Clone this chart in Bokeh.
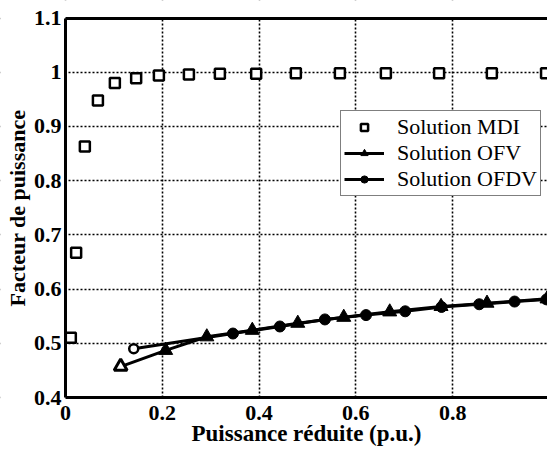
from bokeh.plotting import figure
from bokeh.models import (Range1d, FixedTicker, CustomJSTickFormatter, LinearAxis,
                          Legend, LegendItem, BoxAnnotation)
from bokeh.embed import file_html
from bokeh.resources import INLINE

# ---- data ----
x_ticks = [0, 0.2, 0.4, 0.6, 0.8]
y_ticks = [0.4, 0.5, 0.6, 0.7, 0.8, 0.9, 1.0, 1.1]

mdi_x = [0.011, 0.022, 0.040, 0.067, 0.102, 0.146, 0.193, 0.255, 0.319, 0.394,
         0.476, 0.567, 0.662, 0.772, 0.881, 0.993]
mdi_y = [0.510, 0.667, 0.863, 0.948, 0.980, 0.989, 0.994, 0.996, 0.997, 0.997,
         0.998, 0.998, 0.998, 0.998, 0.998, 0.998]

ofv_x = [0.114, 0.207, 0.292, 0.386, 0.480, 0.575, 0.670, 0.776, 0.871, 0.995]
ofv_y = [0.457, 0.487, 0.512, 0.524, 0.537, 0.548, 0.558, 0.568, 0.574, 0.582]

ofdv_x = [0.141, 0.346, 0.443, 0.536, 0.621, 0.702, 0.777, 0.855, 0.928, 0.994]
ofdv_y = [0.490, 0.518, 0.531, 0.544, 0.552, 0.559, 0.567, 0.572, 0.577, 0.581]

labels = ["Solution MDI", "Solution OFV", "Solution OFDV"]
x_title = "Puissance réduite (p.u.)"
y_title = "Facteur de puissance"

FONT = "Liberation Serif"
X_MIN, X_AXIS_END = 0.0, 1.04
Y_MIN, Y_MAX = 0.4, 1.1
# visible window is a little larger than the axes box so the axis texts fit
X_VIEW = (-0.1343, 0.996)
Y_VIEW = (0.3041, 1.1323)

p = figure(width=547, height=449, output_backend="svg", toolbar_location=None,
           x_range=Range1d(*X_VIEW), y_range=Range1d(*Y_VIEW),
           min_border_left=0, min_border_right=0, min_border_top=0,
           min_border_bottom=0, background_fill_color="white",
           border_fill_color="white", outline_line_color=None)

fmt = CustomJSTickFormatter(code="return String(Math.round(tick*10)/10);")

for ax in (p.xaxis[0], p.yaxis[0]):
    ax.axis_line_width = 3
    ax.axis_line_color = "black"
    ax.major_tick_line_color = None
    ax.minor_tick_line_color = None
    ax.major_tick_out = 0
    ax.major_tick_in = 0
    ax.major_label_text_font = FONT
    ax.major_label_text_font_style = "bold"
    ax.major_label_text_font_size = "22px"
    ax.major_label_text_color = "black"
    ax.axis_label_text_font = FONT
    ax.axis_label_text_font_style = "bold"
    ax.axis_label_text_color = "black"
    ax.formatter = fmt

xt = FixedTicker(ticks=x_ticks)
yt = FixedTicker(ticks=y_ticks)
xa = p.xaxis[0]
ya = p.yaxis[0]
xa.ticker = xt
ya.ticker = yt
xa.fixed_location = Y_MIN
xa.bounds = (X_MIN, X_AXIS_END)
xa.axis_label = x_title
xa.axis_label_text_font_size = "23px"
xa.major_label_standoff = 8
xa.axis_label_standoff = -2
ya.fixed_location = X_MIN
ya.bounds = (Y_MIN, Y_MAX)
ya.axis_label = y_title
ya.axis_label_text_font_size = "22px"
ya.major_label_standoff = 4
ya.axis_label_standoff = 1

top = LinearAxis(ticker=FixedTicker(ticks=[]), axis_line_width=3,
                 major_tick_line_color=None, minor_tick_line_color=None,
                 major_label_text_font_size="0px", fixed_location=Y_MAX,
                 bounds=(X_MIN, X_AXIS_END))
p.add_layout(top, "above")

for g, t in ((p.xgrid[0], xt), (p.ygrid[0], yt)):
    g.ticker = t
    g.grid_line_color = "black"
    g.grid_line_dash = "2 2"
    g.grid_line_width = 1.6
    g.grid_line_alpha = 1.0

# white covers for the parts of the view outside the axes box
for kw in (dict(top=Y_MIN), dict(right=X_MIN), dict(bottom=Y_MAX)):
    p.add_layout(BoxAnnotation(fill_color="white", fill_alpha=1.0,
                               line_color=None, level="underlay", **kw))

# MDI squares
r_mdi = p.scatter(mdi_x, mdi_y, marker="square", size=10, fill_color="white",
                  line_color="black", line_width=2.5)

# OFV
l_ofv = p.line(ofv_x, ofv_y, line_color="black", line_width=3)
s_ofv = p.scatter(ofv_x[1:], ofv_y[1:], marker="triangle", size=14,
                  fill_color="black", line_color="black", line_width=1)
p.scatter(ofv_x[:1], ofv_y[:1], marker="triangle", size=13,
          fill_color="white", line_color="black", line_width=3)

# OFDV
l_ofdv = p.line(ofdv_x, ofdv_y, line_color="black", line_width=3)
s_ofdv = p.scatter(ofdv_x[1:], ofdv_y[1:], marker="circle", size=11,
                   fill_color="black", line_color="black", line_width=1)
p.scatter(ofdv_x[:1], ofdv_y[:1], marker="circle", size=9,
          fill_color="white", line_color="black", line_width=2.5)

legend = Legend(items=[LegendItem(label=labels[0], renderers=[r_mdi]),
                       LegendItem(label=labels[1], renderers=[l_ofv, s_ofv]),
                       LegendItem(label=labels[2], renderers=[l_ofdv, s_ofdv])],
                location=(340, 253), label_text_font=FONT,
                label_text_font_size="22px", label_text_color="black",
                label_height=20, glyph_width=40, glyph_height=18, spacing=0,
                padding=3, margin=0, label_standoff=13,
                border_line_color="black", border_line_width=1,
                background_fill_color="white", background_fill_alpha=1.0)
p.add_layout(legend, "center")

open("out.html", "w").write(file_html(p, INLINE))
